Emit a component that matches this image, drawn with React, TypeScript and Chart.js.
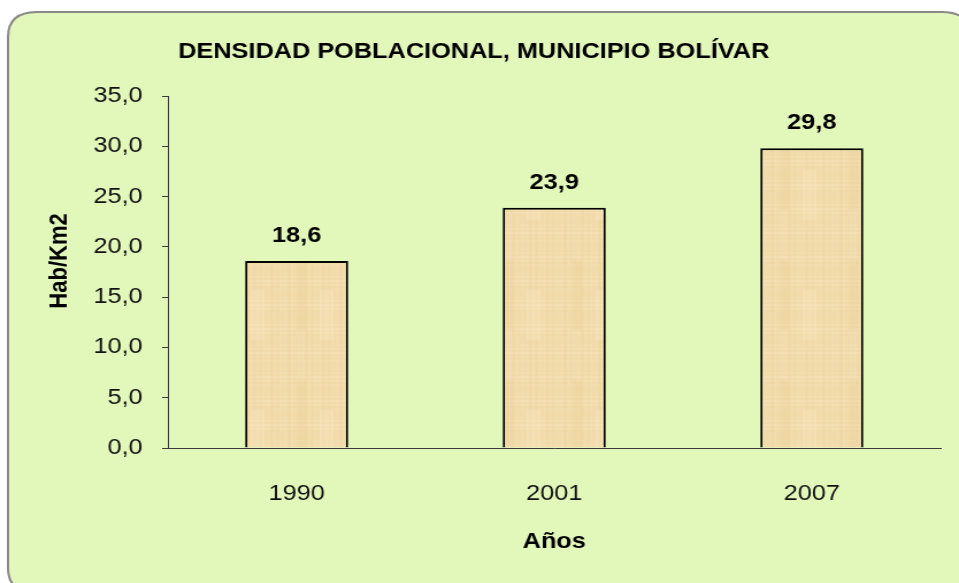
import React, { useEffect, useRef } from "react";
import { Chart, registerables } from "chart.js";

Chart.register(...registerables);

const categories: string[] = ["1990", "2001", "2007"];
const densidad: number[] = [18.6, 23.9, 29.8];
const chartTitle = "DENSIDAD POBLACIONAL, MUNICIPIO BOLÍVAR";
const yTitle = "Hab/Km2";
const xTitle = "Años";
const yMin = 0;
const yMax = 35;
const yStep = 5;

const STRETCH = 1.15;
const W = Math.round(959 / STRETCH);
const H = 583;
const FONT = "'Liberation Sans', Arial, sans-serif";

const fmt = (v: number) => v.toFixed(1).replace(".", ",");

function makePattern(ctx: CanvasRenderingContext2D): CanvasPattern | string {
  const c = document.createElement("canvas");
  c.width = 60;
  c.height = 120;
  const g = c.getContext("2d");
  if (!g) return "#F0D9A8";
  g.fillStyle = "#F2DCAC";
  g.fillRect(0, 0, 60, 120);
  for (let y = 0; y < 120; y += 4) {
    g.fillStyle = `rgba(255,244,218,${0.1 + 0.08 * Math.sin(y * 1.3)})`;
    g.fillRect(0, y, 60, 2);
  }
  for (let x = 0; x < 60; x += 5) {
    g.fillStyle = `rgba(220,188,120,${0.06 + 0.05 * Math.sin(x * 2.1)})`;
    g.fillRect(x, 0, 3, 120);
  }
  g.fillStyle = "rgba(225,195,125,0.15)";
  g.fillRect(18, 20, 8, 70);
  g.fillStyle = "rgba(255,240,210,0.2)";
  g.fillRect(38, 50, 12, 50);
  return ctx.createPattern(c, "repeat") || "#F0D9A8";
}

const decorPlugin = {
  id: "decor",
  beforeDraw(chart: any) {
    const ctx = chart.ctx as CanvasRenderingContext2D;
    ctx.save();
    ctx.fillStyle = "#ffffff";
    ctx.fillRect(0, 0, chart.width, chart.height);
    const x = 7, y = 12, w = chart.width + 10 - x, h = chart.height + 10 - y, r = 25;
    ctx.beginPath();
    ctx.moveTo(x + r, y);
    ctx.lineTo(x + w - r, y);
    ctx.quadraticCurveTo(x + w, y, x + w, y + r);
    ctx.lineTo(x + w, y + h - r);
    ctx.quadraticCurveTo(x + w, y + h, x + w - r, y + h);
    ctx.lineTo(x + r, y + h);
    ctx.quadraticCurveTo(x, y + h, x, y + h - r);
    ctx.lineTo(x, y + r);
    ctx.quadraticCurveTo(x, y, x + r, y);
    ctx.closePath();
    ctx.fillStyle = "rgb(226,248,187)";
    ctx.fill();
    ctx.lineWidth = 2;
    ctx.strokeStyle = "#8a8a8a";
    ctx.stroke();

    ctx.fillStyle = "#000";
    ctx.font = `bold 22px ${FONT}`;
    ctx.textAlign = "center";
    ctx.textBaseline = "middle";
    ctx.fillText(chartTitle, 412, 52);

    ctx.translate(52, 261);
    ctx.rotate(-Math.PI / 2);
    ctx.fillText(yTitle, 0, 0);
    ctx.restore();
  },
  afterDatasetsDraw(chart: any) {
    const ctx = chart.ctx as CanvasRenderingContext2D;
    const meta = chart.getDatasetMeta(0);
    ctx.save();
    ctx.fillStyle = "#000";
    ctx.font = `bold 22px ${FONT}`;
    ctx.textAlign = "center";
    ctx.textBaseline = "middle";
    meta.data.forEach((el: any, i: number) => {
      ctx.fillText(fmt(densidad[i]), el.x, el.y - 25);
    });
    ctx.restore();
  },
};

export default function App() {
  const ref = useRef<HTMLCanvasElement>(null);

  useEffect(() => {
    const canvas = ref.current;
    if (!canvas) return;
    const ctx = canvas.getContext("2d");
    if (!ctx) return;
    const pattern = makePattern(ctx);
    const chart = new Chart(ctx, {
      type: "bar",
      data: {
        labels: categories,
        datasets: [
          {
            data: densidad,
            backgroundColor: pattern as any,
            borderColor: "#000",
            borderWidth: 2,
            categoryPercentage: 1,
            barPercentage: 0.4,
          },
        ],
      },
      options: {
        responsive: false,
        animation: false,
        devicePixelRatio: 1,
        layout: { padding: { left: 0, top: 96, right: W - 818, bottom: 0 } },
        plugins: {
          legend: { display: false },
          title: { display: false },
          tooltip: { enabled: false },
        },
        scales: {
          x: {
            grid: { display: false },
            border: { display: true, color: "#3a3a3a", width: 1 },
            ticks: {
              color: "#111",
              font: { family: FONT, size: 22 },
              padding: 25,
            },
            title: {
              display: true,
              text: xTitle,
              color: "#000",
              font: { family: FONT, size: 22, weight: "bold" },
              padding: { top: 0, bottom: 28 },
            },
            afterFit: (scale: any) => {
              scale.height = H - 448;
            },
          },
          y: {
            min: yMin,
            max: yMax,
            grid: {
              drawOnChartArea: false,
              drawTicks: true,
              tickLength: 5,
              color: "#3a3a3a",
            },
            border: { display: true, color: "#3a3a3a", width: 1 },
            ticks: {
              stepSize: yStep,
              color: "#111",
              font: { family: FONT, size: 22 },
              padding: 17,
              callback: (v: any) => fmt(Number(v)),
            },
            afterFit: (scale: any) => {
              scale.width = 146;
            },
          },
        },
      },
      plugins: [decorPlugin],
    });
    return () => chart.destroy();
  }, []);

  return (
    <div
      style={{
        position: "fixed",
        left: 0,
        top: 0,
        width: W,
        height: H,
        transform: `scaleX(${959 / W})`,
        transformOrigin: "0 0",
      }}
    >
      <canvas ref={ref} width={W} height={H} style={{ width: W, height: H, display: "block" }} />
    </div>
  );
}
